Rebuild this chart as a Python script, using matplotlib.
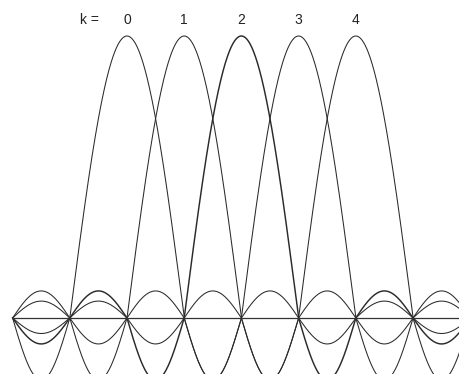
import numpy as np
import matplotlib
matplotlib.use('Agg')
import matplotlib.pyplot as plt

# bins drawn, one response curve per bin
bins = [0, 1, 2, 3, 4]
bin_labels = ['0', '1', '2', '3', '4']
# main lobe height and signed sidelobe heights (1st, 2nd, ...)
main_amp = 1.0
side_amps = [-0.22, 0.096, -0.092, 0.06, -0.055]

def response(t, k):
    u = np.abs(t - k)
    n = np.floor(u).astype(int)
    y = np.zeros_like(t)
    m = u < 1
    y[m] = main_amp * np.cos(np.pi * u[m] / 2)
    for i, a in enumerate(side_amps):
        s = n == i + 1
        y[s] = a * np.sin(np.pi * (u[s] - n[s]))
    return y

fig = plt.figure(figsize=(4.6, 3.74), dpi=100)
ax = fig.add_axes([0, 0, 1, 1])
ax.set_xlim(-127 / 57.2, (460 - 127) / 57.2)
ax.set_ylim(-(374 - 318) / 282, 318 / 282)
ax.axis('off')

t = np.linspace(-2, 6, 3000)
for k in bins:
    lw = 1.05 if k == 2 else 0.75
    ax.plot(t, response(t, k), color='#2a2a2a', lw=lw)
ax.plot([-2, 6], [0, 0], color='#333333', lw=0.9)

ty = (318 - 20) / 282
ax.text(-0.65, ty, 'k =', ha='center', va='center', fontsize=10,
        family='Liberation Sans', color='#222222')
for k, lab in zip(bins, bin_labels):
    ax.text(k, ty, lab, ha='center', va='center', fontsize=10,
            family='Liberation Sans', color='#222222')

fig.savefig('out.png', dpi=100)
